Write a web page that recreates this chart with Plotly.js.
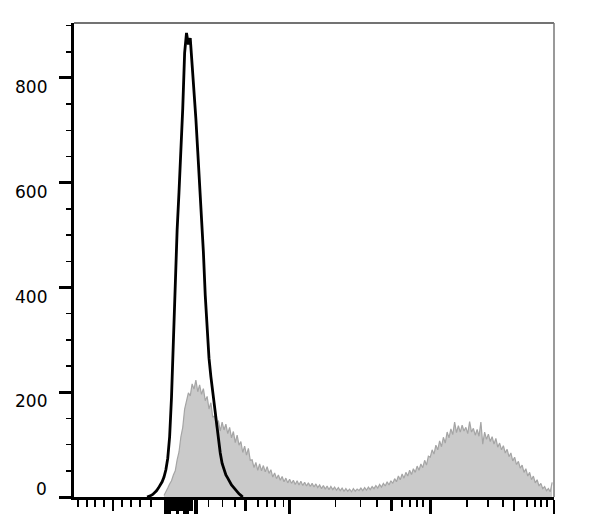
<!DOCTYPE html>
<html><head><meta charset="utf-8">
<script src="https://cdn.plot.ly/plotly-3.0.1.min.js"></script>
<style>html,body{margin:0;padding:0;background:#fff}#chart{width:590px;height:529px}</style>
</head><body><div id="chart"></div>
<script>
// Histogram bins are in display-channel units (0..1024), 4 channels per bin
const binWidth = 4;

// Stained sample (grey filled histogram), counts per bin starting at bin 48
const stainedStartBin = 48;
const stainedCounts = [
  3, 9, 17, 25, 31, 42, 50, 71, 86, 115, 133, 168, 181, 199, 193, 216, 206, 223, 201, 214,
  196, 207, 184, 192, 168, 180, 152, 155, 133, 146, 126, 143, 128, 139, 121, 133, 113, 125, 104, 118,
  99, 106, 85, 97, 80, 93, 70, 71, 56, 66, 51, 63, 50, 60, 48, 58, 45, 52, 38, 46,
  35, 42, 32, 39, 29, 36, 27, 34, 26, 32, 24, 31, 23, 30, 22, 28, 21, 27, 20, 26,
  19, 25, 18, 23, 16, 22, 15, 21, 14, 20, 14, 19, 13, 18, 12, 17, 11, 16, 11, 15,
  10, 16, 11, 15, 12, 17, 12, 18, 13, 19, 14, 20, 16, 22, 17, 24, 19, 26, 21, 29,
  23, 31, 26, 35, 29, 40, 33, 44, 36, 47, 40, 51, 43, 54, 47, 59, 51, 63, 56, 70,
  61, 78, 76, 90, 82, 99, 90, 107, 96, 114, 103, 124, 113, 130, 119, 143, 123, 136, 124, 137,
  126, 133, 121, 144, 124, 131, 118, 129, 116, 143, 101, 124, 110, 120, 106, 115, 101, 112, 95, 103,
  90, 98, 84, 91, 77, 84, 69, 76, 62, 68, 55, 61, 47, 54, 40, 47, 33, 40, 27, 33,
  21, 26, 16, 20, 12, 16, 10, 28
];

// Unstained control (black outline histogram), counts per bin starting at bin 39
const controlStartBin = 39;
const controlCounts = [
  0, 1, 3, 5, 8, 12, 17, 22, 29, 38, 52, 74, 115, 190, 310, 420, 510, 582, 655, 742,
  848, 886, 864, 876, 825, 782, 722, 660, 597, 540, 468, 385, 318, 265, 230, 200, 166, 134, 104, 84,
  64, 52, 42, 36, 29, 23, 19, 14, 10, 6, 3, 0
];

// Axis ticks
const yTickValues = [0, 200, 400, 600, 800];
const yTickLabels = ['0', '200', '400', '600', '800'];
const xLongTicks = [194, 199, 204, 220, 236, 242, 259, 262, 460, 760, 1024];
const xMediumTicks = [83, 210, 215, 226, 231, 247, 252, 366, 677, 939];
const xShortTicks = [9, 28, 45, 64, 102, 121, 141, 164, 287, 317, 343, 392, 411, 428, 447,
  558, 611, 647, 700, 717, 732, 745, 839, 884, 915, 967, 984, 996, 1009];

const binX = (start, arr) => arr.map((_, i) => (start + i) * binWidth);

const traces = [
  {
    type: 'scatter', mode: 'lines',
    x: binX(stainedStartBin, stainedCounts), y: stainedCounts,
    fill: 'tozeroy', fillcolor: 'rgb(202,202,202)',
    line: {color: 'rgb(165,165,165)', width: 1.2},
    hoverinfo: 'skip'
  },
  {
    type: 'scatter', mode: 'lines',
    x: binX(controlStartBin, controlCounts), y: controlCounts,
    line: {color: '#000', width: 2.8},
    hoverinfo: 'skip'
  },
  {type: 'scatter', mode: 'lines', x: [], y: [], xaxis: 'x2', hoverinfo: 'skip'}
];

const layout = {
  width: 590, height: 529,
  margin: {l: 74, r: 36, t: 23, b: 32, pad: 0},
  paper_bgcolor: '#fff', plot_bgcolor: '#fff',
  showlegend: false,
  xaxis: {
    range: [0, 1024], showgrid: false, zeroline: false,
    showline: true, linecolor: '#000', linewidth: 3,
    ticks: 'outside', tickmode: 'array', tickvals: xLongTicks,
    ticklen: 14, tickwidth: 2.8, tickcolor: '#000', showticklabels: false,
    minor: {tickmode: 'array', tickvals: xShortTicks, ticks: 'outside', ticklen: 7, tickwidth: 1.8, tickcolor: '#000', showgrid: false}
  },
  xaxis2: {
    overlaying: 'x', anchor: 'y', side: 'bottom',
    range: [0, 1024], showgrid: false, zeroline: false, showline: false,
    ticks: 'outside', tickmode: 'array', tickvals: xMediumTicks,
    ticklen: 13, tickwidth: 2.4, tickcolor: '#000', showticklabels: false
  },
  yaxis: {
    range: [0, 905], showgrid: false, zeroline: false,
    showline: true, linecolor: '#000', linewidth: 3,
    ticks: 'outside', tickmode: 'array', tickvals: yTickValues,
    ticklen: 12, tickwidth: 3, tickcolor: '#000', showticklabels: false,
    minor: {tick0: 0, dtick: 50, ticks: 'outside', ticklen: 5, tickwidth: 1.5, tickcolor: '#000', showgrid: false}
  },
  shapes: [
    {type: 'line', xref: 'paper', yref: 'paper', x0: 0, x1: 1, y0: 1, y1: 1, line: {color: '#444', width: 1.5}},
    {type: 'line', xref: 'paper', yref: 'paper', x0: 1, x1: 1, y0: 0, y1: 1, line: {color: '#777', width: 1.5}}
  ],
  annotations: yTickValues.map((v, i) => ({
    xref: 'paper', yref: 'y', x: 0, y: v,
    xanchor: 'right', yanchor: 'middle',
    xshift: -25, yshift: v === 0 ? 8 : -9,
    text: yTickLabels[i], showarrow: false,
    font: {family: 'DejaVu Sans, Arial, sans-serif', size: 17, color: '#000'}
  }))
};

Plotly.newPlot('chart', traces, layout, {displayModeBar: false, staticPlot: true});
</script>
</body></html>
